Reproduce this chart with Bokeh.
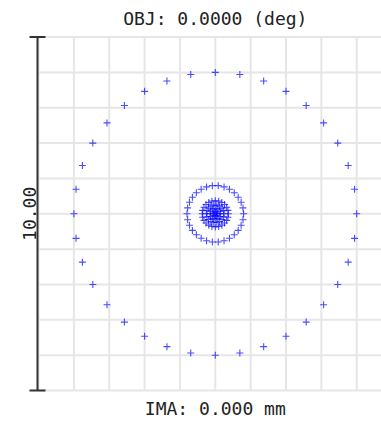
import math
from bokeh.plotting import figure
from bokeh.models import Range1d
from bokeh.core.properties import value
from bokeh.embed import file_html
from bokeh.resources import INLINE

# Spot diagram data: hexapolar ray rings (image-plane radius in scale units, rays per ring)
ring_radii = [0.00, 0.06, 0.15, 0.25, 0.37, 0.80, 4.00]
ring_counts = [1, 6, 12, 18, 24, 30, 36]
title_text = "OBJ: 0.0000 (deg)"
bottom_text = "IMA: 0.000 mm"
scale_text = "10.00"
grid_ticks = [-5, -4, -3, -2, -1, 0, 1, 2, 3, 4, 5]
scale_half = 5.0  # scale bar spans -5..5 (10.00)

xs, ys = [], []
for r, n in zip(ring_radii, ring_counts):
    for k in range(n):
        a = 2 * math.pi * k / n
        xs.append(r * math.cos(a))
        ys.append(r * math.sin(a))

W, H = 381, 421
unit = 35.35           # pixels per data unit
cx, cy = 214.8, 213.3  # page position of the origin
x0, x1 = -cx / unit, (W - cx) / unit
y0, y1 = -(H - cy) / unit, cy / unit

p = figure(width=W, height=H, output_backend="svg", toolbar_location=None,
           x_range=Range1d(x0, x1), y_range=Range1d(y0, y1),
           min_border=0, x_axis_location=None, y_axis_location=None)
p.outline_line_color = None
p.xgrid.visible = False
p.ygrid.visible = False
p.background_fill_color = "white"
p.border_fill_color = "white"

gmin, gmax = grid_ticks[0], grid_ticks[-1]
# vertical grid lines
p.segment(x0=grid_ticks, y0=[gmin] * len(grid_ticks), x1=grid_ticks, y1=[gmax] * len(grid_ticks),
          line_color="#e6e6e6", line_width=2)
# horizontal grid lines (run off the right edge)
p.segment(x0=[gmin] * len(grid_ticks), y0=grid_ticks, x1=[x1 + 1] * len(grid_ticks), y1=grid_ticks,
          line_color="#e6e6e6", line_width=2)

# scale bar with end caps
bx = -5.03
cap = 8 / unit
p.segment(x0=[bx], y0=[-scale_half], x1=[bx], y1=[scale_half], line_color="#333333", line_width=2)
p.segment(x0=[bx - cap, bx - cap], y0=[-scale_half, scale_half],
          x1=[bx + cap, bx + cap], y1=[-scale_half, scale_half],
          line_color="#333333", line_width=2)

p.scatter(xs, ys, marker="cross", size=7, line_color="#0000ff", line_alpha=0.7, line_width=1.1)

font = value("DejaVu Sans Mono")
p.text(x=[0], y=[(cy - 18) / unit], text=[title_text], text_font=font, text_font_size="18px",
       text_color="#222222", text_align="center", text_baseline="middle")
p.text(x=[0], y=[(cy - 408) / unit], text=[bottom_text], text_font=font, text_font_size="18px",
       text_color="#222222", text_align="center", text_baseline="middle")
p.text(x=[(29 - cx) / unit], y=[0], text=[scale_text], angle=math.pi / 2, text_font=font,
       text_font_size="18px", text_color="#222222", text_align="center", text_baseline="middle")

open("out.html", "w").write(file_html(p, INLINE))
